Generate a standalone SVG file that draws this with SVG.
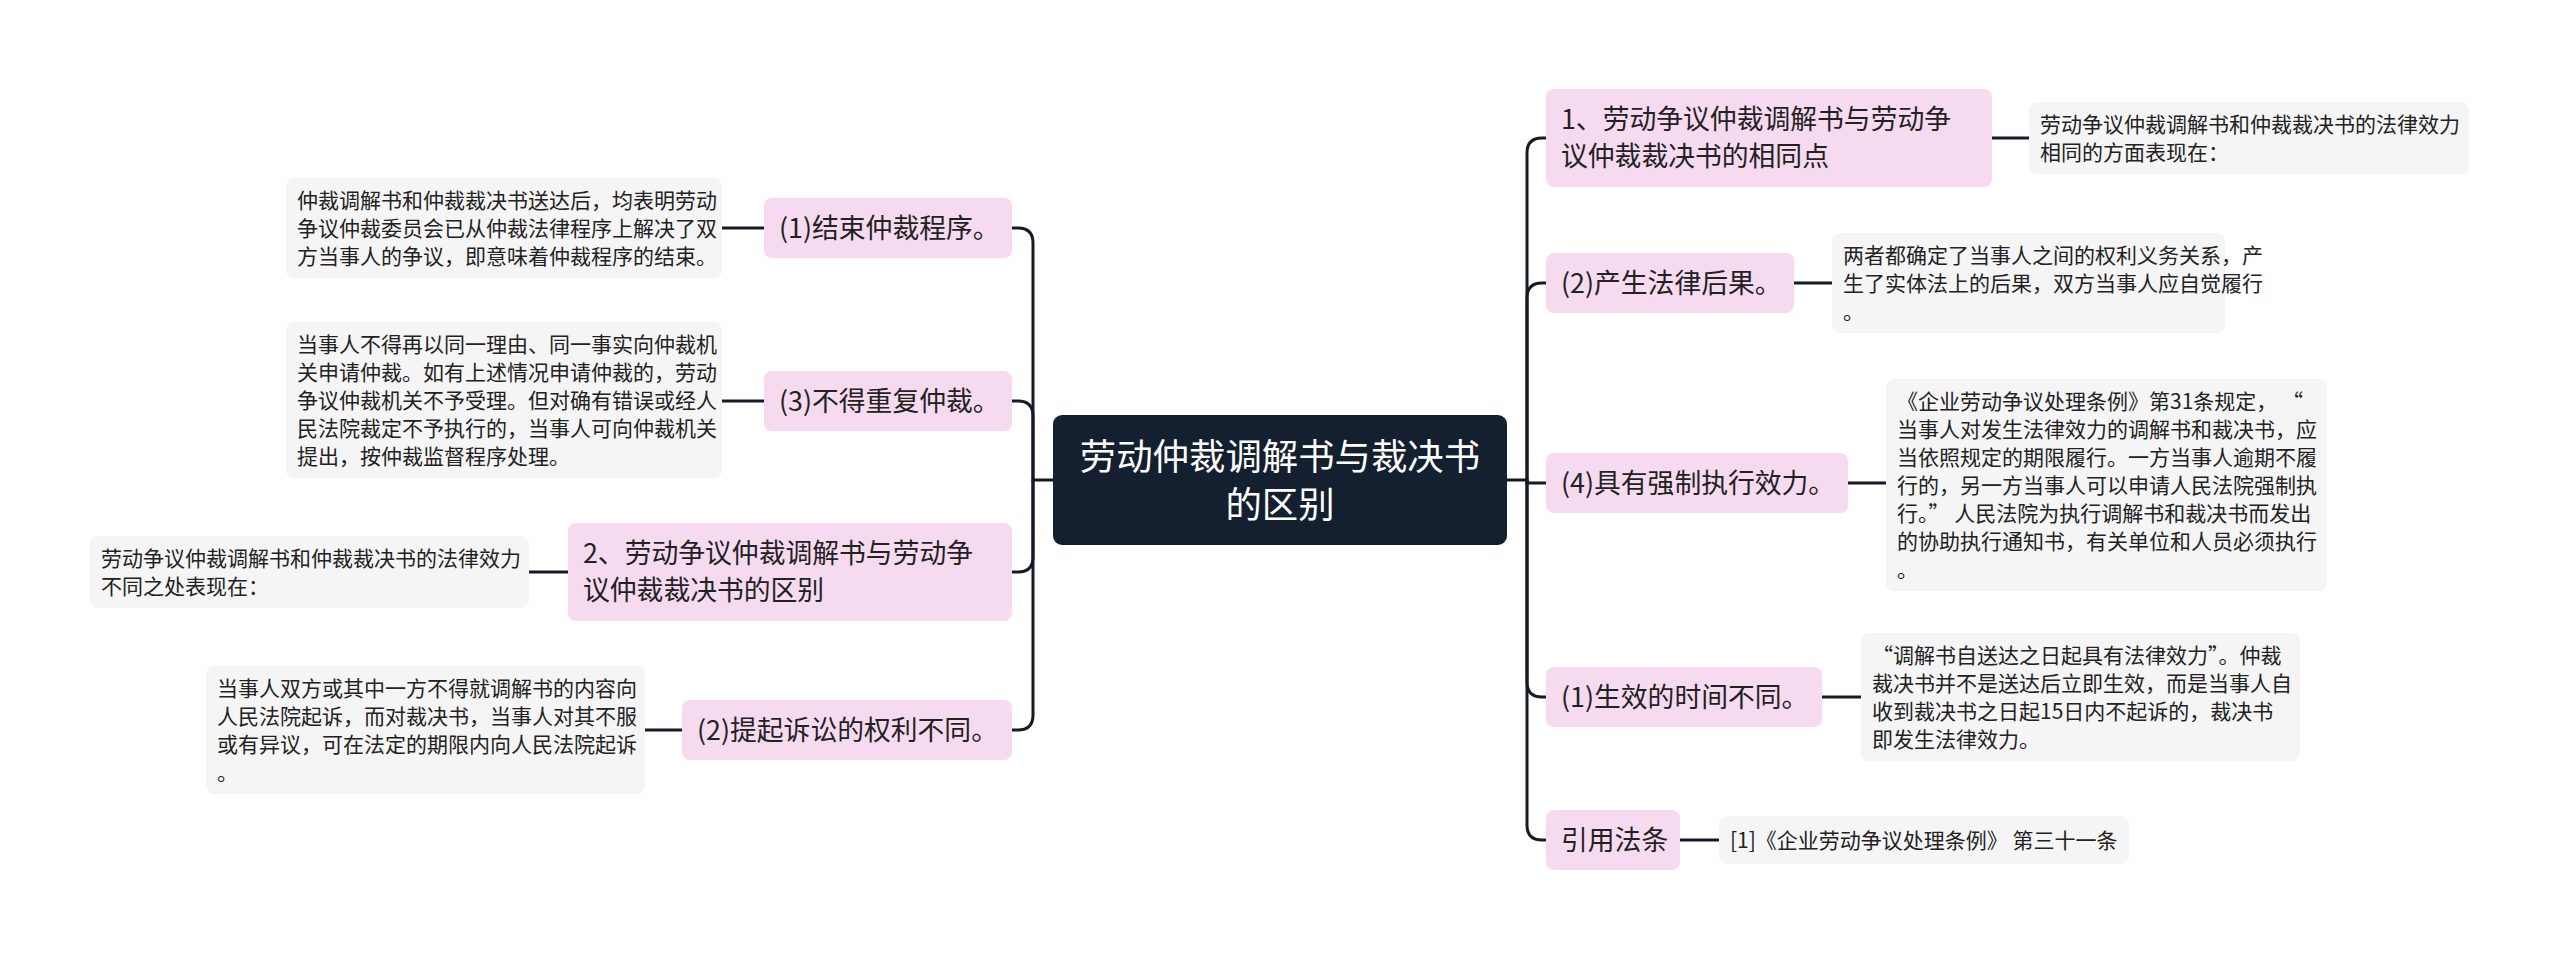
<svg xmlns="http://www.w3.org/2000/svg" width="2560" height="960" viewBox="0 0 2560 960">
<style>
.bg{fill:#ffffff}
.pink{fill:#f6daf0}
.gray{fill:#f5f5f5}
.root{fill:#14202f}
.pt{font-family:"Noto Sans CJK SC","Noto Sans",sans-serif;font-size:26.8px;fill:#222222}
.gt{font-family:"Noto Sans CJK SC","Noto Sans",sans-serif;font-size:21px;fill:#222222}
.rt{font-family:"Noto Sans CJK SC","Noto Sans",sans-serif;font-size:36.4px;fill:#ffffff;text-anchor:middle}
.ln{fill:none;stroke:#141b26;stroke-width:3;stroke-linecap:round}
</style>
<rect class="bg" x="0" y="0" width="2560" height="960"/>
<g id="connectors">
<path class="ln" d="M1053,480 H1033 V243 Q1033,228 1018,228 H1012"/>
<path class="ln" d="M1033,480 V416 Q1033,401 1018,401 H1012"/>
<path class="ln" d="M1033,480 V557 Q1033,572 1018,572 H1012"/>
<path class="ln" d="M1033,480 V715 Q1033,730 1018,730 H1012"/>
<path class="ln" d="M1507,480 H1527 V153 Q1527,138 1542,138 H1546"/>
<path class="ln" d="M1527,480 V298 Q1527,283 1542,283 H1546"/>
<path class="ln" d="M1527,480 V483 H1546"/>
<path class="ln" d="M1527,480 V682 Q1527,697 1542,697 H1546"/>
<path class="ln" d="M1527,480 V825 Q1527,840 1542,840 H1546"/>
<path class="ln" d="M764,228 H722"/>
<path class="ln" d="M764,401 H722"/>
<path class="ln" d="M568,572 H529"/>
<path class="ln" d="M682,730 H645"/>
<path class="ln" d="M1992,138 H2029"/>
<path class="ln" d="M1794,283 H1832"/>
<path class="ln" d="M1848,483 H1886"/>
<path class="ln" d="M1822,697 H1861"/>
<path class="ln" d="M1680,840 H1719"/>
</g>
<g id="root">
<rect class="root" x="1053" y="415" width="454" height="130" rx="9"/>
<text class="rt" x="1280" y="470">劳动仲裁调解书与裁决书</text>
<text class="rt" x="1280" y="518">的区别</text>
</g>
<g id="l1">
<rect class="pink" x="764" y="198" width="248" height="60" rx="8"/>
<text class="pt" x="779" y="238">(1)结束仲裁程序。</text>
</g>
<g id="l1-note">
<rect class="gray" x="286" y="178" width="436" height="100" rx="8"/>
<text class="gt" x="297" y="208">仲裁调解书和仲裁裁决书送达后，均表明劳动</text>
<text class="gt" x="297" y="236">争议仲裁委员会已从仲裁法律程序上解决了双</text>
<text class="gt" x="297" y="264">方当事人的争议，即意味着仲裁程序的结束。</text>
</g>
<g id="l2">
<rect class="pink" x="764" y="371" width="248" height="60" rx="8"/>
<text class="pt" x="779" y="411">(3)不得重复仲裁。</text>
</g>
<g id="l2-note">
<rect class="gray" x="286" y="322" width="436" height="156" rx="8"/>
<text class="gt" x="297" y="352">当事人不得再以同一理由、同一事实向仲裁机</text>
<text class="gt" x="297" y="380">关申请仲裁。如有上述情况申请仲裁的，劳动</text>
<text class="gt" x="297" y="408">争议仲裁机关不予受理。但对确有错误或经人</text>
<text class="gt" x="297" y="436">民法院裁定不予执行的，当事人可向仲裁机关</text>
<text class="gt" x="297" y="464">提出，按仲裁监督程序处理。</text>
</g>
<g id="l3">
<rect class="pink" x="568" y="523" width="444" height="98" rx="8"/>
<text class="pt" x="583" y="563">2、劳动争议仲裁调解书与劳动争</text>
<text class="pt" x="583" y="600">议仲裁裁决书的区别</text>
</g>
<g id="l3-note">
<rect class="gray" x="90" y="536" width="439" height="72" rx="8"/>
<text class="gt" x="101" y="566">劳动争议仲裁调解书和仲裁裁决书的法律效力</text>
<text class="gt" x="101" y="594">不同之处表现在：</text>
</g>
<g id="l4">
<rect class="pink" x="682" y="700" width="330" height="60" rx="8"/>
<text class="pt" x="697" y="740">(2)提起诉讼的权利不同。</text>
</g>
<g id="l4-note">
<rect class="gray" x="206" y="666" width="439" height="128" rx="8"/>
<text class="gt" x="217" y="696">当事人双方或其中一方不得就调解书的内容向</text>
<text class="gt" x="217" y="724">人民法院起诉，而对裁决书，当事人对其不服</text>
<text class="gt" x="217" y="752">或有异议，可在法定的期限内向人民法院起诉</text>
<text class="gt" x="217" y="780">。</text>
</g>
<g id="r1">
<rect class="pink" x="1546" y="89" width="446" height="98" rx="8"/>
<text class="pt" x="1561" y="129">1、劳动争议仲裁调解书与劳动争</text>
<text class="pt" x="1561" y="166">议仲裁裁决书的相同点</text>
</g>
<g id="r1-note">
<rect class="gray" x="2029" y="102" width="440" height="72" rx="8"/>
<text class="gt" x="2040" y="132">劳动争议仲裁调解书和仲裁裁决书的法律效力</text>
<text class="gt" x="2040" y="160">相同的方面表现在：</text>
</g>
<g id="r2">
<rect class="pink" x="1546" y="253" width="248" height="60" rx="8"/>
<text class="pt" x="1561" y="293">(2)产生法律后果。</text>
</g>
<g id="r2-note">
<rect class="gray" x="1832" y="233" width="393" height="100" rx="8"/>
<text class="gt" x="1843" y="263">两者都确定了当事人之间的权利义务关系，产</text>
<text class="gt" x="1843" y="291">生了实体法上的后果，双方当事人应自觉履行</text>
<text class="gt" x="1843" y="319">。</text>
</g>
<g id="r3">
<rect class="pink" x="1546" y="453" width="302" height="60" rx="8"/>
<text class="pt" x="1561" y="493">(4)具有强制执行效力。</text>
</g>
<g id="r3-note">
<rect class="gray" x="1886" y="379" width="441" height="212" rx="8"/>
<text class="gt" x="1897" y="409">《企业劳动争议处理条例》第31条规定， “</text>
<text class="gt" x="1897" y="437">当事人对发生法律效力的调解书和裁决书，应</text>
<text class="gt" x="1897" y="465">当依照规定的期限履行。一方当事人逾期不履</text>
<text class="gt" x="1897" y="493">行的，另一方当事人可以申请人民法院强制执</text>
<text class="gt" x="1897" y="521">行。” 人民法院为执行调解书和裁决书而发出</text>
<text class="gt" x="1897" y="549">的协助执行通知书，有关单位和人员必须执行</text>
<text class="gt" x="1897" y="577">。</text>
</g>
<g id="r4">
<rect class="pink" x="1546" y="667" width="276" height="60" rx="8"/>
<text class="pt" x="1561" y="707">(1)生效的时间不同。</text>
</g>
<g id="r4-note">
<rect class="gray" x="1861" y="633" width="439" height="128" rx="8"/>
<text class="gt" x="1872" y="663">“调解书自送达之日起具有法律效力”。仲裁</text>
<text class="gt" x="1872" y="691">裁决书并不是送达后立即生效，而是当事人自</text>
<text class="gt" x="1872" y="719">收到裁决书之日起15日内不起诉的，裁决书</text>
<text class="gt" x="1872" y="747">即发生法律效力。</text>
</g>
<g id="r5">
<rect class="pink" x="1546" y="810" width="134" height="60" rx="8"/>
<text class="pt" x="1561" y="850">引用法条</text>
</g>
<g id="r5-note">
<rect class="gray" x="1719" y="816" width="410" height="48" rx="8"/>
<text class="gt" x="1730" y="848">[1]《企业劳动争议处理条例》 第三十一条</text>
</g>
</svg>
